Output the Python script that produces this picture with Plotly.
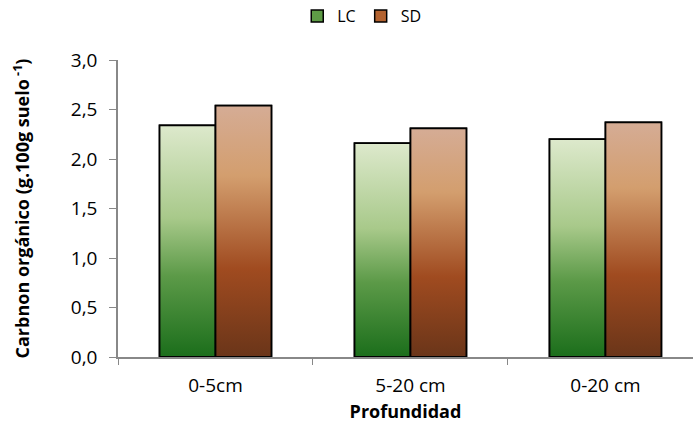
import plotly.graph_objects as go

categories = ["0-5cm", "5-20 cm", "0-20 cm"]
lc_values = [2.34, 2.16, 2.20]
sd_values = [2.54, 2.31, 2.37]
y_ticks = [0.0, 0.5, 1.0, 1.5, 2.0, 2.5, 3.0]
y_tick_labels = ["0,0", "0,5", "1,0", "1,5", "2,0", "2,5", "3,0"]

FONT = "Open Sans"
BAR_W = 0.287
positions = list(range(len(categories)))

series = [
    ("LC", lc_values, -BAR_W, "#5e9c46",
     [[0, "#1b6e1b"], [0.35, "#5c9a48"], [0.6, "#a8c98a"], [1, "#dde9cc"]]),
    ("SD", sd_values, 0.0, "#b3622f",
     [[0, "#6a3519"], [0.35, "#a04b20"], [0.72, "#d39e6e"], [1, "#d5ac95"]]),
]

fig = go.Figure()

# solid bars (legend entries, base layer)
for name, vals, off, solid, cs in series:
    fig.add_trace(go.Bar(
        x=positions, y=vals, name=name, width=BAR_W, offset=off,
        marker=dict(color=solid, line=dict(color="black", width=1.5)),
        hoverinfo="skip",
    ))

# gradient overlays built from the same values
for name, vals, off, solid, cs in series:
    for p, v in zip(positions, vals):
        x0 = p + off
        x1 = x0 + BAR_W
        fig.add_trace(go.Scatter(
            x=[x0, x1, x1, x0, x0], y=[0, 0, v, v, 0],
            mode="lines", fill="toself",
            fillgradient=dict(type="vertical", colorscale=cs, start=0, stop=v),
            line=dict(color="black", width=1.8),
            showlegend=False, hoverinfo="skip",
        ))

fig.update_layout(
    width=693, height=432,
    margin=dict(l=118, r=0, t=60, b=75, autoexpand=False),
    paper_bgcolor="white", plot_bgcolor="white",
    font=dict(family=FONT, size=15, color="black"),
    barmode="overlay",
    showlegend=True,
    legend=dict(orientation="h", xref="container", x=0.522, xanchor="center",
                yref="container", y=1 - 16 / 432, yanchor="middle",
                font=dict(size=16), itemwidth=30, tracegroupgap=0),
    xaxis=dict(
        range=[-0.5, 2.449], tickmode="array", tickvals=positions,
        ticktext=categories, ticks="", showline=True, linecolor="#888888",
        linewidth=1.5, showgrid=False, zeroline=False,
        tickfont=dict(size=19), ticklabelstandoff=10, automargin=False,
        minor=dict(ticks="outside", tick0=-0.5, dtick=1, ticklen=6,
                   tickcolor="#888888", showgrid=False),
        title=dict(text="<b>Profundidad</b>", font=dict(size=18), standoff=9),
    ),
    yaxis=dict(
        range=[0, 3.0], tickmode="array", tickvals=y_ticks, ticktext=y_tick_labels,
        ticks="outside", ticklen=7, tickcolor="#888888", showline=True,
        linecolor="#888888", linewidth=1.5, showgrid=False, zeroline=False,
        tickfont=dict(size=19), ticklabelstandoff=8, automargin=False,
        title=dict(text="<b>Carbnon orgánico (g.100g suelo<sup> -1</sup>)</b>",
                   font=dict(size=18), standoff=36),
    ),
)

fig.write_html("out.html", config={"displayModeBar": False},
               post_script="document.body.style.margin='0px';")
